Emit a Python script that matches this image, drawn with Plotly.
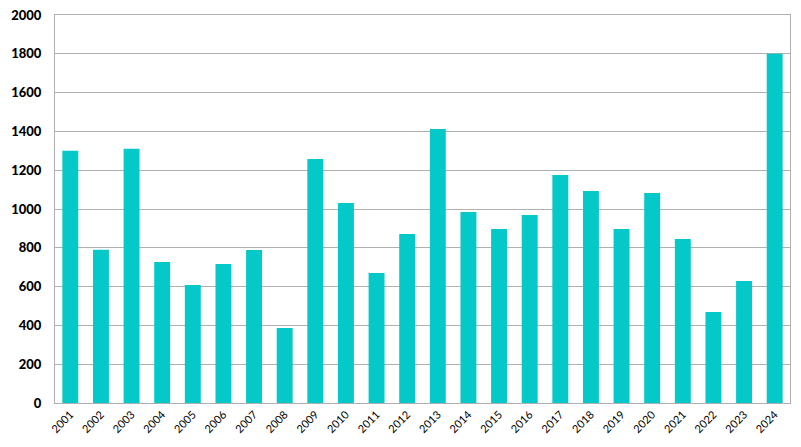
import plotly.graph_objects as go

years = [str(y) for y in range(2001, 2025)]
values = [1300, 790, 1310, 727, 608, 716, 789, 387, 1258, 1031, 670, 871,
          1412, 985, 897, 969, 1175, 1093, 897, 1082, 845, 469, 629, 1800]
y_ticks = list(range(0, 2001, 200))

fig = go.Figure(go.Bar(x=years, y=values, marker_color="#05C8C8", marker_line_width=0))

fig.update_layout(
    width=801, height=447,
    margin=dict(l=55, r=11, t=15, b=44),
    paper_bgcolor="white", plot_bgcolor="white",
    bargap=0.48, showlegend=False,
    font=dict(family="Lato, Carlito, sans-serif", color="#000000"),
)
fig.update_xaxes(
    tickangle=-45, tickfont=dict(size=11), automargin=False,
    showline=True, linecolor="#B0B0B0", linewidth=1, mirror=True,
    ticks="", showgrid=False,
)
fig.update_yaxes(
    range=[0, 2000], tickvals=y_ticks, automargin=False,
    tickfont=dict(size=13, family="Lato Black, Lato, sans-serif"),
    showgrid=True, gridcolor="#B0B0B0", gridwidth=1,
    showline=True, linecolor="#B0B0B0", linewidth=1, mirror=True,
    zeroline=False, ticks="", ticklabelstandoff=10,
)

# page has a default body margin; drop it so the figure sits at 0,0
fig.write_html("out.html", config={"displayModeBar": False},
               post_script="document.body.style.margin='0';")
